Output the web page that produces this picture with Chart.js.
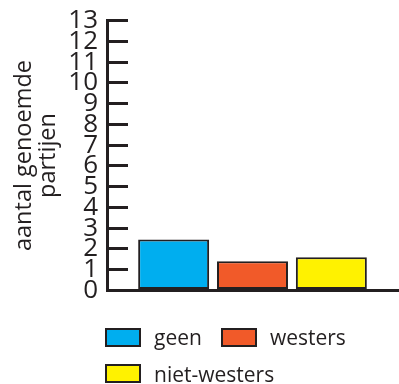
<!DOCTYPE html>
<html lang="nl">

<head>
  <meta charset="UTF-8">
  <title>Aantal genoemde partijen</title>
  <style>
    body {
      margin: 0;
      background: #ffffff;
      font-family: "Open Sans", sans-serif;
      color: #231f20;
      overflow: hidden;
    }

    .chart-box {
      position: absolute;
      left: 0;
      top: -25px;
      width: 399px;
      height: 361px;
    }

    #legend {
      position: absolute;
      left: 105px;
      top: 319px;
      width: 280px;
      display: flex;
      flex-wrap: wrap;
    }

    .item {
      display: flex;
      align-items: center;
      height: 36.5px;
      margin-right: 19px;
      font-size: 21px;
    }

    .item span.box {
      width: 32px;
      height: 15px;
      border: 2px solid #231f20;
      margin-right: 13px;
    }
  </style>
  <script src="https://cdn.jsdelivr.net/npm/chart.js"></script>
</head>

<body>
  <div class="chart-box">
    <canvas id="partijenChart"></canvas>
  </div>
  <div id="legend"></div>

  <script>
    // data
    const groups = ['geen', 'westers', 'niet-westers'];
    const counts = [2.45, 1.4, 1.6];
    const colors = ['#00aeef', '#f15a29', '#fff200'];
    const yTicks = [0, 13];

    const ink = '#231f20';

    const chart = new Chart(document.getElementById('partijenChart'), {
      type: 'bar',
      data: {
        labels: [''],
        datasets: groups.map((g, i) => ({
          label: g,
          data: [counts[i]],
          backgroundColor: colors[i],
          borderColor: ink,
          borderWidth: 2,
          borderSkipped: false,
          categoryPercentage: 0.813,
          barPercentage: 0.9
        }))
      },
      options: {
        responsive: true,
        maintainAspectRatio: false,
        animation: false,
        layout: { padding: { top: 20, right: 1, bottom: 16, left: 0 } },
        plugins: {
          legend: { display: false },
          tooltip: { enabled: false }
        },
        scales: {
          x: {
            ticks: { display: false },
            grid: { display: false, drawTicks: false },
            border: { display: true, color: ink, width: 3 }
          },
          y: {
            min: yTicks[0],
            max: yTicks[1],
            afterFit: scale => { scale.width = 107; },
            ticks: {
              stepSize: 1,
              autoSkip: false,
              padding: 30,
              color: ink,
              font: { family: 'Open Sans', size: 26 }
            },
            // negative tick length puts the tick marks inside the plot
            grid: {
              drawOnChartArea: false,
              drawTicks: true,
              tickLength: -21,
              lineWidth: 3,
              color: ink
            },
            border: { display: true, color: ink, width: 3 },
            title: {
              display: true,
              text: ['aantal genoemde', 'partijen'],
              color: ink,
              font: { family: 'Open Sans', size: 23.5, lineHeight: 1.02 },
              padding: { top: 12, bottom: 8 }
            }
          }
        }
      }
    });

    // legend built from the datasets
    const legend = document.getElementById('legend');
    chart.data.datasets.forEach(ds => {
      const item = document.createElement('div');
      item.className = 'item';
      item.innerHTML = '<span class="box" style="background:' + ds.backgroundColor + '"></span>' + ds.label;
      legend.appendChild(item);
    });
  </script>
</body>

</html>
